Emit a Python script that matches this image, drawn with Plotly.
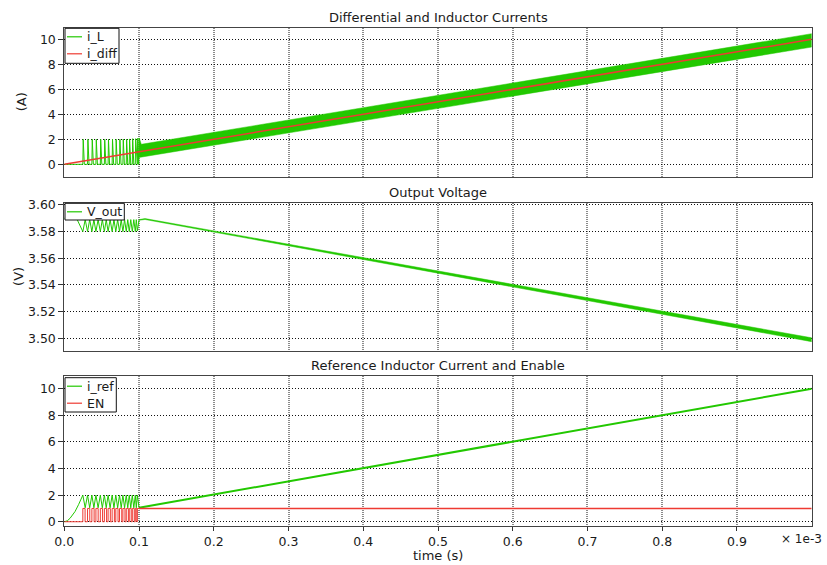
import plotly.graph_objects as go

W, H = 827, 565

# ---------------- data (time in units of 1e-3 s) ----------------
# inductor current: discontinuous pulses during start-up
IL_PULSE_T = [0.0248, 0.0311, 0.0369, 0.0423, 0.0482, 0.0536, 0.0586, 0.0640,
              0.0689, 0.0739, 0.0784, 0.0829, 0.0869, 0.0910, 0.0950, 0.0977]
IL_PULSE_PEAK = [2.00, 2.00, 2.00, 2.00, 2.00, 2.00, 2.00, 2.00,
                 2.00, 2.00, 2.02, 2.02, 2.03, 2.05, 2.05, 2.08]
IL_RISE, IL_FALL = 0.0005, 0.0015
# ripple envelope of i_L once continuous
IL_ENV_T = [0.100, 0.1003, 0.103, 1.000]
IL_ENV_HI = [2.10, 2.10, 1.60, 10.45]
IL_ENV_LO = [0.55, 0.55, 0.55, 9.38]
# differential current
IDIFF_T = [0.0, 1.0]
IDIFF_V = [0.0, 10.0]

# output voltage
VOUT_T = [0.0, 0.0170, 0.0248, 0.02795, 0.0311, 0.0340, 0.0369, 0.0396, 0.0423,
          0.04525, 0.0482, 0.0509, 0.0536, 0.0561, 0.0586, 0.0613, 0.0640,
          0.06645, 0.0689, 0.0714, 0.0739, 0.07615, 0.0784, 0.08065, 0.0829,
          0.0849, 0.0869, 0.08895, 0.0910, 0.0930, 0.0950, 0.09635, 0.0977,
          0.1000]
VOUT_V = [3.5900, 3.5893, 3.5800, 3.5890, 3.5800, 3.5890, 3.5800, 3.5890, 3.5800,
          3.5890, 3.5800, 3.5890, 3.5800, 3.5890, 3.5800, 3.5890, 3.5800,
          3.5890, 3.5800, 3.5890, 3.5800, 3.5890, 3.5800, 3.5890, 3.5800,
          3.5890, 3.5800, 3.5890, 3.5800, 3.5890, 3.5800, 3.5890, 3.5805,
          3.5888]
VOUT_ENV_T = [0.100, 0.108, 1.000]
VOUT_ENV_HI = [3.5890, 3.5898, 3.5003]
VOUT_ENV_LO = [3.5885, 3.5891, 3.4974]

# reference current
IREF_T = [0.0, 0.0040, 0.0077, 0.0110, 0.0144, 0.0190, 0.0248,
          0.02795, 0.0311, 0.0340, 0.0369, 0.0396, 0.0423, 0.04525, 0.0482,
          0.0509, 0.0536, 0.0561, 0.0586, 0.0613, 0.0640, 0.06645, 0.0689,
          0.0714, 0.0739, 0.07615, 0.0784, 0.08065, 0.0829, 0.0849, 0.0869,
          0.08895, 0.0910, 0.0930, 0.0950, 0.09635, 0.0977, 0.1000]
IREF_V = [0.0, 0.07, 0.26, 0.50, 0.77, 1.28, 2.00,
          1.05, 2.00, 1.05, 2.00, 1.05, 2.00, 1.05, 2.00,
          1.05, 2.00, 1.05, 2.00, 1.05, 2.00, 1.05, 2.00,
          1.05, 2.00, 1.05, 2.00, 1.05, 2.00, 1.05, 2.00,
          1.05, 2.00, 1.05, 2.00, 1.05, 2.00, 1.05]
IREF_RAMP_T = [0.100, 1.000]
IREF_RAMP_V = [1.05, 10.00]

# enable signal
EN_ON_T = [0.0248, 0.0311, 0.0369, 0.0423, 0.0482, 0.0536, 0.0586, 0.0640,
           0.0689, 0.0739, 0.0784, 0.0829, 0.0869, 0.0910, 0.0950, 0.0977]
EN_OFF_T = [0.0278, 0.0341, 0.0399, 0.0453, 0.0512, 0.0566, 0.0616, 0.0670,
            0.0719, 0.0769, 0.0812, 0.0857, 0.0895, 0.0936, 0.0970, 0.1000]
EN_HOLD_T = [0.100, 1.000]
EN_HOLD_V = [1.0, 1.0]

# axis ticks
X_TICKS = [0.0, 0.1, 0.2, 0.3, 0.4, 0.5, 0.6, 0.7, 0.8, 0.9]
X_TICK_TEXT = ["0.0", "0.1", "0.2", "0.3", "0.4", "0.5", "0.6", "0.7", "0.8", "0.9"]
Y1_TICKS = [0, 2, 4, 6, 8, 10]
Y2_TICKS = [3.50, 3.52, 3.54, 3.56, 3.58, 3.60]
Y3_TICKS = [0, 2, 4, 6, 8, 10]

# ---------------- waveform assembly ----------------
il_t, il_v = [0.0], [0.0]
for t0, pk in zip(IL_PULSE_T, IL_PULSE_PEAK):
    il_t += [t0, t0 + IL_RISE, t0 + IL_RISE + IL_FALL]
    il_v += [0.0, pk, 0.0]
il_t += [0.0995, IL_ENV_T[0]]
il_v += [0.0, IL_ENV_HI[0]]

en_t, en_v = [0.0], [0.0]
for on, off in zip(EN_ON_T, EN_OFF_T):
    en_t += [on, on, off, off]
    en_v += [0.0, 1.0, 1.0, 0.0]
en_t[-1:] = []
en_v[-1:] = []

GREEN = "#22c800"
RED = "#ee3a32"
FONT = "DejaVu Sans"

fig = go.Figure()

# panel 1
fig.add_trace(go.Scatter(x=il_t, y=il_v, mode="lines", line=dict(color=GREEN, width=1),
                         xaxis="x", yaxis="y", showlegend=False))
fig.add_trace(go.Scatter(x=IL_ENV_T + IL_ENV_T[::-1], y=IL_ENV_HI + IL_ENV_LO[::-1],
                         mode="lines", fill="toself", fillcolor=GREEN,
                         line=dict(color=GREEN, width=0.5), xaxis="x", yaxis="y",
                         showlegend=False))
fig.add_trace(go.Scatter(x=IDIFF_T, y=IDIFF_V, mode="lines", line=dict(color=RED, width=1.5),
                         xaxis="x", yaxis="y", showlegend=False))

# panel 2
fig.add_trace(go.Scatter(x=VOUT_T, y=VOUT_V, mode="lines", line=dict(color=GREEN, width=1),
                         xaxis="x2", yaxis="y2", showlegend=False))
fig.add_trace(go.Scatter(x=VOUT_ENV_T + VOUT_ENV_T[::-1], y=VOUT_ENV_HI + VOUT_ENV_LO[::-1],
                         mode="lines", fill="toself", fillcolor=GREEN,
                         line=dict(color=GREEN, width=0.5), xaxis="x2", yaxis="y2",
                         showlegend=False))

# panel 3
fig.add_trace(go.Scatter(x=IREF_T, y=IREF_V, mode="lines", line=dict(color=GREEN, width=1),
                         xaxis="x3", yaxis="y3", showlegend=False))
fig.add_trace(go.Scatter(x=IREF_RAMP_T, y=IREF_RAMP_V, mode="lines",
                         line=dict(color=GREEN, width=2), xaxis="x3", yaxis="y3",
                         showlegend=False))
fig.add_trace(go.Scatter(x=en_t, y=en_v, mode="lines", line=dict(color=RED, width=1),
                         xaxis="x3", yaxis="y3", showlegend=False))
fig.add_trace(go.Scatter(x=EN_HOLD_T, y=EN_HOLD_V, mode="lines", line=dict(color=RED, width=1.5),
                         xaxis="x3", yaxis="y3", showlegend=False))

# ---------------- layout ----------------
X0, X1 = 64.3, 811.7
PANELS = [(27.7, 176.7), (202.7, 351.0), (375.7, 526.0)]
Y_RANGES = [[-0.99, 10.93], [3.4904, 3.6017], [-0.32, 10.98]]
Y_TICKS = [Y1_TICKS, Y2_TICKS, Y3_TICKS]
Y_FMT = ["d", ".2f", "d"]
TITLES = ["Differential and Inductor Currents", "Output Voltage",
          "Reference Inductor Current and Enable"]


def px(x):
    return x / W


def py(y):
    return 1 - y / H


layout = dict(
    width=W, height=H, margin=dict(l=0, r=0, t=0, b=0, pad=0, autoexpand=False),
    paper_bgcolor="white", plot_bgcolor="white",
    font=dict(family=FONT, size=12, color="#1a1a1a"),
    showlegend=False,
)
for i, (top, bot) in enumerate(PANELS):
    n = "" if i == 0 else str(i + 1)
    last = i == 2
    layout["xaxis" + n] = dict(
        domain=[px(X0), px(X1)], range=[0, 1.0], anchor="y" + n, automargin=False,
        tickvals=X_TICKS, ticktext=X_TICK_TEXT, showticklabels=last,
        ticks="outside" if last else "", ticklen=4, tickcolor="#333",
        showgrid=True, gridcolor="#8a8a8a", griddash="1px,1px", gridwidth=1.5,
        showline=True, linecolor="#444", linewidth=1, mirror=True, zeroline=False,
        tickfont=dict(size=12.5),
    )
    if i > 0:
        layout["xaxis" + n]["matches"] = "x"
    # short inward tick marks along the top edge of each panel
    layout["xaxis" + str(i + 4)] = dict(
        overlaying="x" + n if i > 0 else "x", side="top", anchor="y" + n,
        range=[0, 1.0], automargin=False, tickvals=X_TICKS,
        ticks="inside", ticklen=4, tickcolor="#333", showticklabels=False,
        showgrid=False, showline=False, zeroline=False,
    )
    layout["yaxis" + n] = dict(
        domain=[py(bot), py(top)], range=Y_RANGES[i], anchor="x" + n, automargin=False,
        tickvals=Y_TICKS[i], tickformat=Y_FMT[i],
        ticks="outside", ticklen=5, tickcolor="#333",
        showgrid=True, gridcolor="#111", griddash="1px,2px", gridwidth=1,
        showline=True, linecolor="#444", linewidth=1, mirror=True, zeroline=False,
        tickfont=dict(size=12.5),
    )
fig.update_layout(**layout)

ann = []
shapes = []
for (top, bot), title in zip(PANELS, TITLES):
    ann.append(dict(text=title, x=px((X0 + X1) / 2), y=py(top), xref="paper", yref="paper",
                    xanchor="center", yanchor="bottom", yshift=1, showarrow=False,
                    font=dict(size=13)))
ann.append(dict(text="(A)", x=px(21), y=py(102.2), xref="paper", yref="paper",
                xanchor="center", yanchor="middle",
                textangle=-90, showarrow=False, font=dict(size=13)))
ann.append(dict(text="(V)", x=px(19), y=py(276.9), xref="paper", yref="paper",
                xanchor="center", yanchor="middle",
                textangle=-90, showarrow=False, font=dict(size=13)))
ann.append(dict(text="time (s)", x=px(438), y=py(555), xref="paper", yref="paper",
                xanchor="center", yanchor="middle", showarrow=False, font=dict(size=13)))
ann.append(dict(text="× 1e-3", x=px(801), y=py(539), xref="paper", yref="paper",
                xanchor="center", yanchor="middle", showarrow=False, font=dict(size=12)))

# legends drawn as boxed keys in the top-left corner of each panel
LEGENDS = [
    ((65, 28.3, 119, 63.3), [("i_L", GREEN), ("i_diff", RED)]),
    ((65, 203.3, 124.3, 220.0), [("V_out", GREEN)]),
    ((65, 377.7, 116.3, 412.0), [("i_ref", GREEN), ("EN", RED)]),
]
for (lx0, ly0, lx1, ly1), entries in LEGENDS:
    shapes.append(dict(type="rect", xref="paper", yref="paper",
                       x0=px(lx0), x1=px(lx1), y0=py(ly1), y1=py(ly0),
                       line=dict(color="#111", width=1), fillcolor="white", layer="above"))
    for k, (name, col) in enumerate(entries):
        yc = ly0 + 8.5 + 17 * k
        shapes.append(dict(type="line", xref="paper", yref="paper",
                           x0=px(67), x1=px(82), y0=py(yc), y1=py(yc),
                           line=dict(color=col, width=1.2), layer="above"))
        ann.append(dict(text=name, x=px(85), y=py(yc), xref="paper", yref="paper",
                        xanchor="left", yanchor="middle", showarrow=False,
                        font=dict(size=12.5)))

fig.update_layout(annotations=ann, shapes=shapes)
fig.write_html("out.html")
